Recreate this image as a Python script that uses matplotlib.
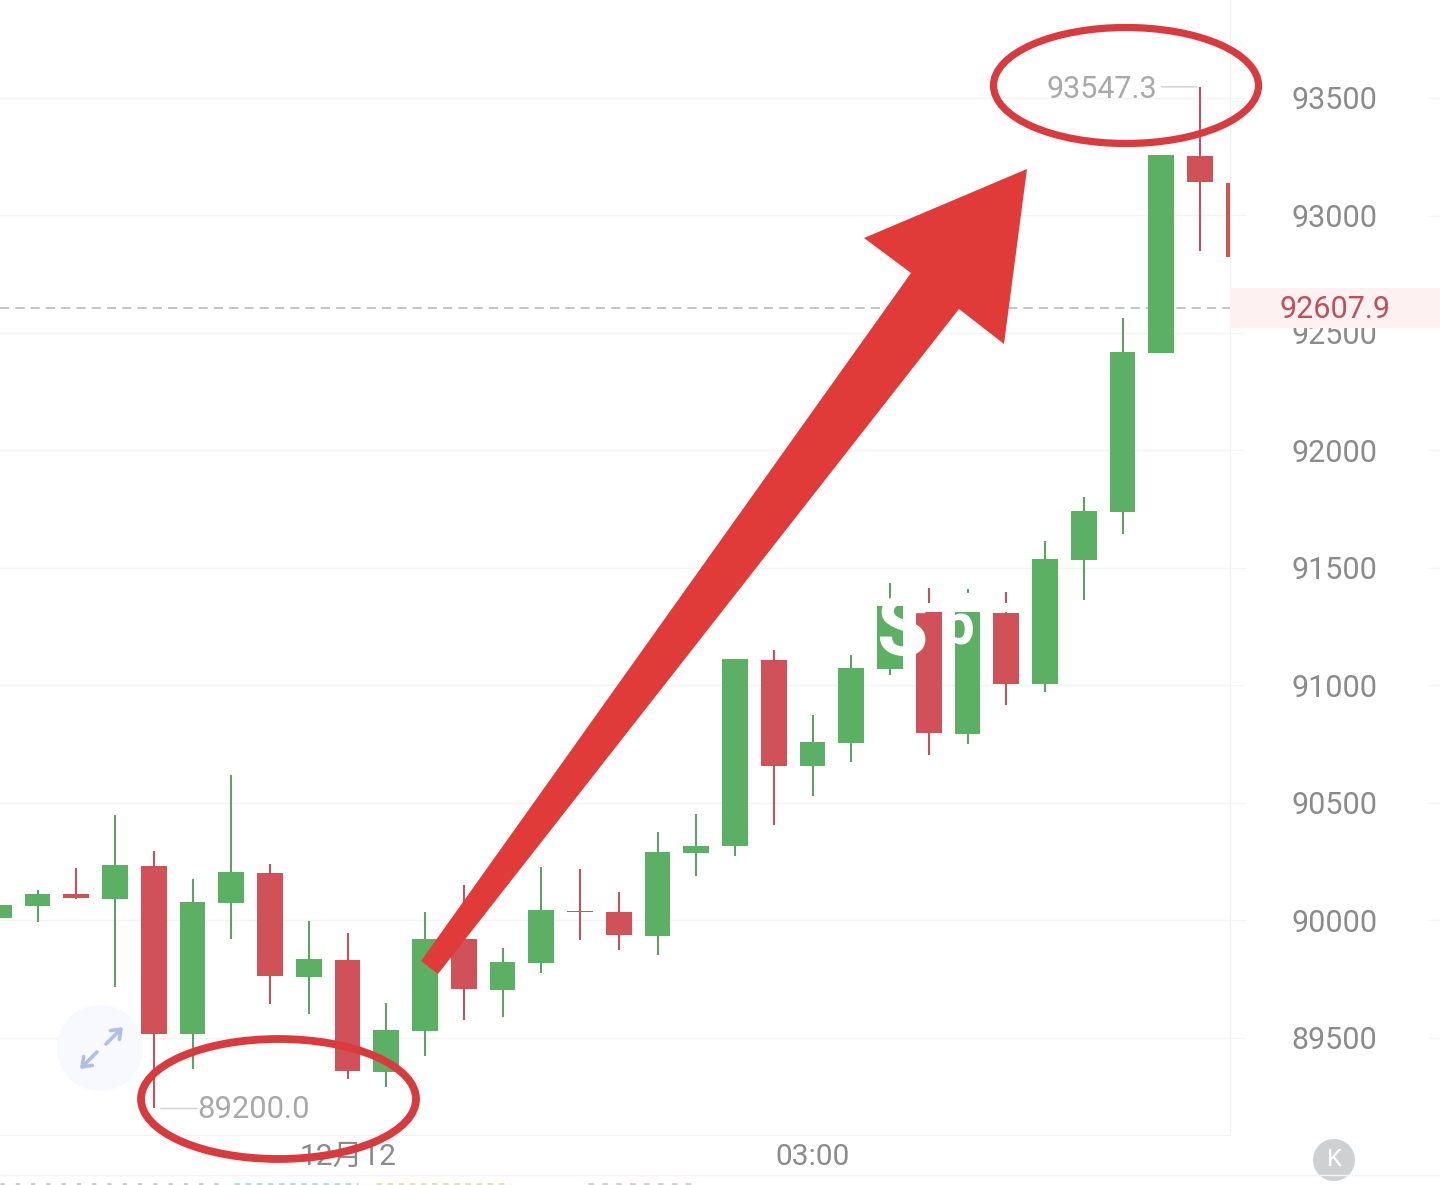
import matplotlib
matplotlib.use('Agg')
import matplotlib.pyplot as plt
from matplotlib.patches import Circle, Ellipse, Polygon, Rectangle

plt.rcParams['font.family'] = ['Roboto', 'Noto Sans CJK SC', 'DejaVu Sans']

# candles, leftmost one is cut by the image edge and index 0 is the next one
idx = list(range(-1, 32))
opens = [90011, 90062, 90113, 90091, 90232, 89517, 90075, 90202, 89760, 89832, 89355,
         89530, 89921, 89704, 89819, 90040, 90036, 89934, 90287, 90317, 91109, 90657,
         90755, 91070, 91338, 90794, 91309, 91006, 91534, 91738, 92415, 93253, 93138]
closes = [90066, 90113, 90096, 90236, 89517, 90079, 90206, 89764, 89836, 89360, 89534,
          89921, 89709, 89823, 90045, 90036, 89938, 90291, 90317, 91113, 90657, 90760,
          91074, 91338, 90798, 91313, 91006, 91538, 91743, 92419, 93257, 93143, 92823]
highs = [90066, 90130, 90223, 90449, 90296, 90177, 90619, 90240, 89998, 89947, 89649,
         90036, 90151, 89883, 90228, 90219, 90121, 90377, 90453, 91113, 91151, 90874,
         91130, 91436, 91415, 91411, 91398, 91615, 91802, 92564, 93257, 93547.3, 93138]
lows = [90011, 89994, 90091, 89717, 89200.0, 89368, 89921, 89645, 89602, 89326, 89292,
        89423, 89577, 89589, 89777, 89917, 89875, 89853, 90189, 90274, 90406, 90530,
        90674, 91045, 90704, 90751, 90917, 90972, 91364, 91645, 92415, 92849, 92823]

y_ticks = [89500, 90000, 90500, 91000, 91500, 92000, 92500, 93000, 93500]
x_tick_idx = [8, 20]
x_tick_labels = ['12月12', '03:00']
last_price = 92607.9

GREEN = '#5cb063'
GREEN_W = '#609f6c'
RED = '#d15159'
RED_W = '#bf5461'
MARK = '#e03a39'
GRID = '#f4f4f4'

fig = plt.figure(figsize=(14.4, 11.85), dpi=100)
ax = fig.add_axes([0, 50 / 1185, 1230 / 1440, 1135 / 1185])
ax.set_xlim(-37.5 / 38.75, (1230 - 37.5) / 38.75)
ax.set_ylim(93500 - (1135 - 98) / 0.235, 93500 + 98 / 0.235)

for i, o, c, h, l in zip(idx, opens, closes, highs, lows):
    up = c >= o
    ax.vlines(i, l, h, color=GREEN_W if up else RED_W, lw=1.5, zorder=3)
    ax.bar(i, abs(c - o), bottom=min(o, c), width=0.67,
           color=GREEN if up else RED, zorder=4)

ax.grid(axis='y', color=GRID, lw=1)
ax.set_axisbelow(True)
ax.axhline(last_price, color='#b4b4b4', lw=1.1, linestyle=(0, (6, 4)), zorder=2)

ax.yaxis.tick_right()
ax.set_yticks(y_ticks)
ax.tick_params(axis='y', length=10.8, width=0.8, color=GRID, pad=64.5,
               labelsize=22, labelcolor='#8b8b8b')
for t in ax.get_yticklabels():
    t.set_ha('center')
ax.set_xticks(x_tick_idx)
ax.set_xticklabels(x_tick_labels)
ax.tick_params(axis='x', length=0, pad=6, labelsize=21.5, labelcolor='#8b8b8b')
for s in ['top', 'left']:
    ax.spines[s].set_visible(False)
for s in ['bottom', 'right']:
    ax.spines[s].set_color('#f0f0f0')

# high / low labels
hi = highs.index(max(highs))
lo = lows.index(min(lows))
ax.annotate(f'{max(highs):.1f}', xy=(idx[hi], max(highs)), xytext=(-31, -2),
            textcoords='offset points', ha='right', va='center', fontsize=22,
            color='#a9a9a9', zorder=6)
ax.annotate('', xy=(idx[hi] - 0.1, max(highs)), xytext=(-25, 0), textcoords='offset points',
            arrowprops=dict(arrowstyle='-', color='#d0d0d0', lw=1, shrinkA=0, shrinkB=0), zorder=6)
ax.annotate(f'{min(lows):.1f}', xy=(idx[lo], min(lows)), xytext=(31, -1),
            textcoords='offset points', ha='left', va='center', fontsize=22.3,
            color='#a9a9a9', zorder=6)
ax.annotate('', xy=(idx[lo] + 0.18, min(lows)), xytext=(26, 0), textcoords='offset points',
            arrowprops=dict(arrowstyle='-', color='#d0d0d0', lw=1, shrinkA=0, shrinkB=0), zorder=6)

# overlay in image pixels for the hand drawn bits
ov = fig.add_axes([0, 0, 1, 1])
ov.set_xlim(0, 1440)
ov.set_ylim(1185, 0)
ov.axis('off')
ov.patch.set_alpha(0)

ov.add_patch(Rectangle((1230, 288), 210, 40, color='#fdf2f1', lw=0))
ov.text(1335, 309, f'{last_price:.1f}', ha='center', va='center', fontsize=22, color='#bf4f5c')
ov.hlines([98, 216, 450, 568, 685, 803, 920, 1038], 1427, 1440, color=GRID, lw=1)
ov.hlines(1175, 0, 1440, color=GRID, lw=1)

# leftover white watermark letters
ov.add_patch(Rectangle((921, 603), 99, 9, color='white', lw=0))
ov.add_patch(Rectangle((960, 593), 14, 12, color='white', lw=0))
s_txt = ov.text(902, 632, 'S', ha='center', va='center', fontsize=60, fontweight='bold', color='white')
s_clip = Rectangle((870, 600), 34, 41, transform=ov.transData)
s_txt.set_clip_path(s_clip)
ov.text(958, 628, 'p', ha='center', va='center', fontsize=42, fontweight='bold', color='white')

# expand button
ov.add_patch(Circle((100, 1048), 43, color='#f7f9fe', lw=0))
ov.annotate('', xy=(123, 1027), xytext=(106, 1044),
            arrowprops=dict(arrowstyle='->,head_length=0.6,head_width=0.45', color='#afc0e6', lw=2.6, shrinkA=0, shrinkB=0))
ov.annotate('', xy=(80, 1069), xytext=(97, 1052),
            arrowprops=dict(arrowstyle='->,head_length=0.6,head_width=0.45', color='#afc0e6', lw=2.6, shrinkA=0, shrinkB=0))

# K button
ov.add_patch(Circle((1334, 1160), 21, color='#cfd0d2', lw=0))
ov.text(1334, 1160, 'K', ha='center', va='center', fontsize=17, color='white')

# cut off indicator row at the very bottom
ov.hlines(1184, 0, 220, color='#c8c8c8', lw=2, linestyle=(0, (1.5, 4)))
ov.hlines(1184, 234, 358, color='#a5e3d8', lw=2, linestyle=(0, (2, 2)))
ov.hlines(1184, 376, 510, color='#f5dc9a', lw=2, linestyle=(0, (2, 2)))
ov.hlines(1184, 588, 698, color='#e3bfe3', lw=2, linestyle=(0, (2, 3)))

# red arrow and circles
ov.add_patch(Polygon([(421, 961), (911, 273), (864, 238), (1027, 169), (1004, 344),
                      (959, 309), (438, 974)], closed=True, color=MARK, lw=0, zorder=5))
ov.add_patch(Ellipse((1126, 85.5), 265, 116, fill=False, ec='#d93a3e', lw=5.2, zorder=6))
ov.add_patch(Ellipse((278.5, 1099), 275, 120, fill=False, ec='#d93a3e', lw=5.6, zorder=6))

fig.savefig('out.png', dpi=100)
